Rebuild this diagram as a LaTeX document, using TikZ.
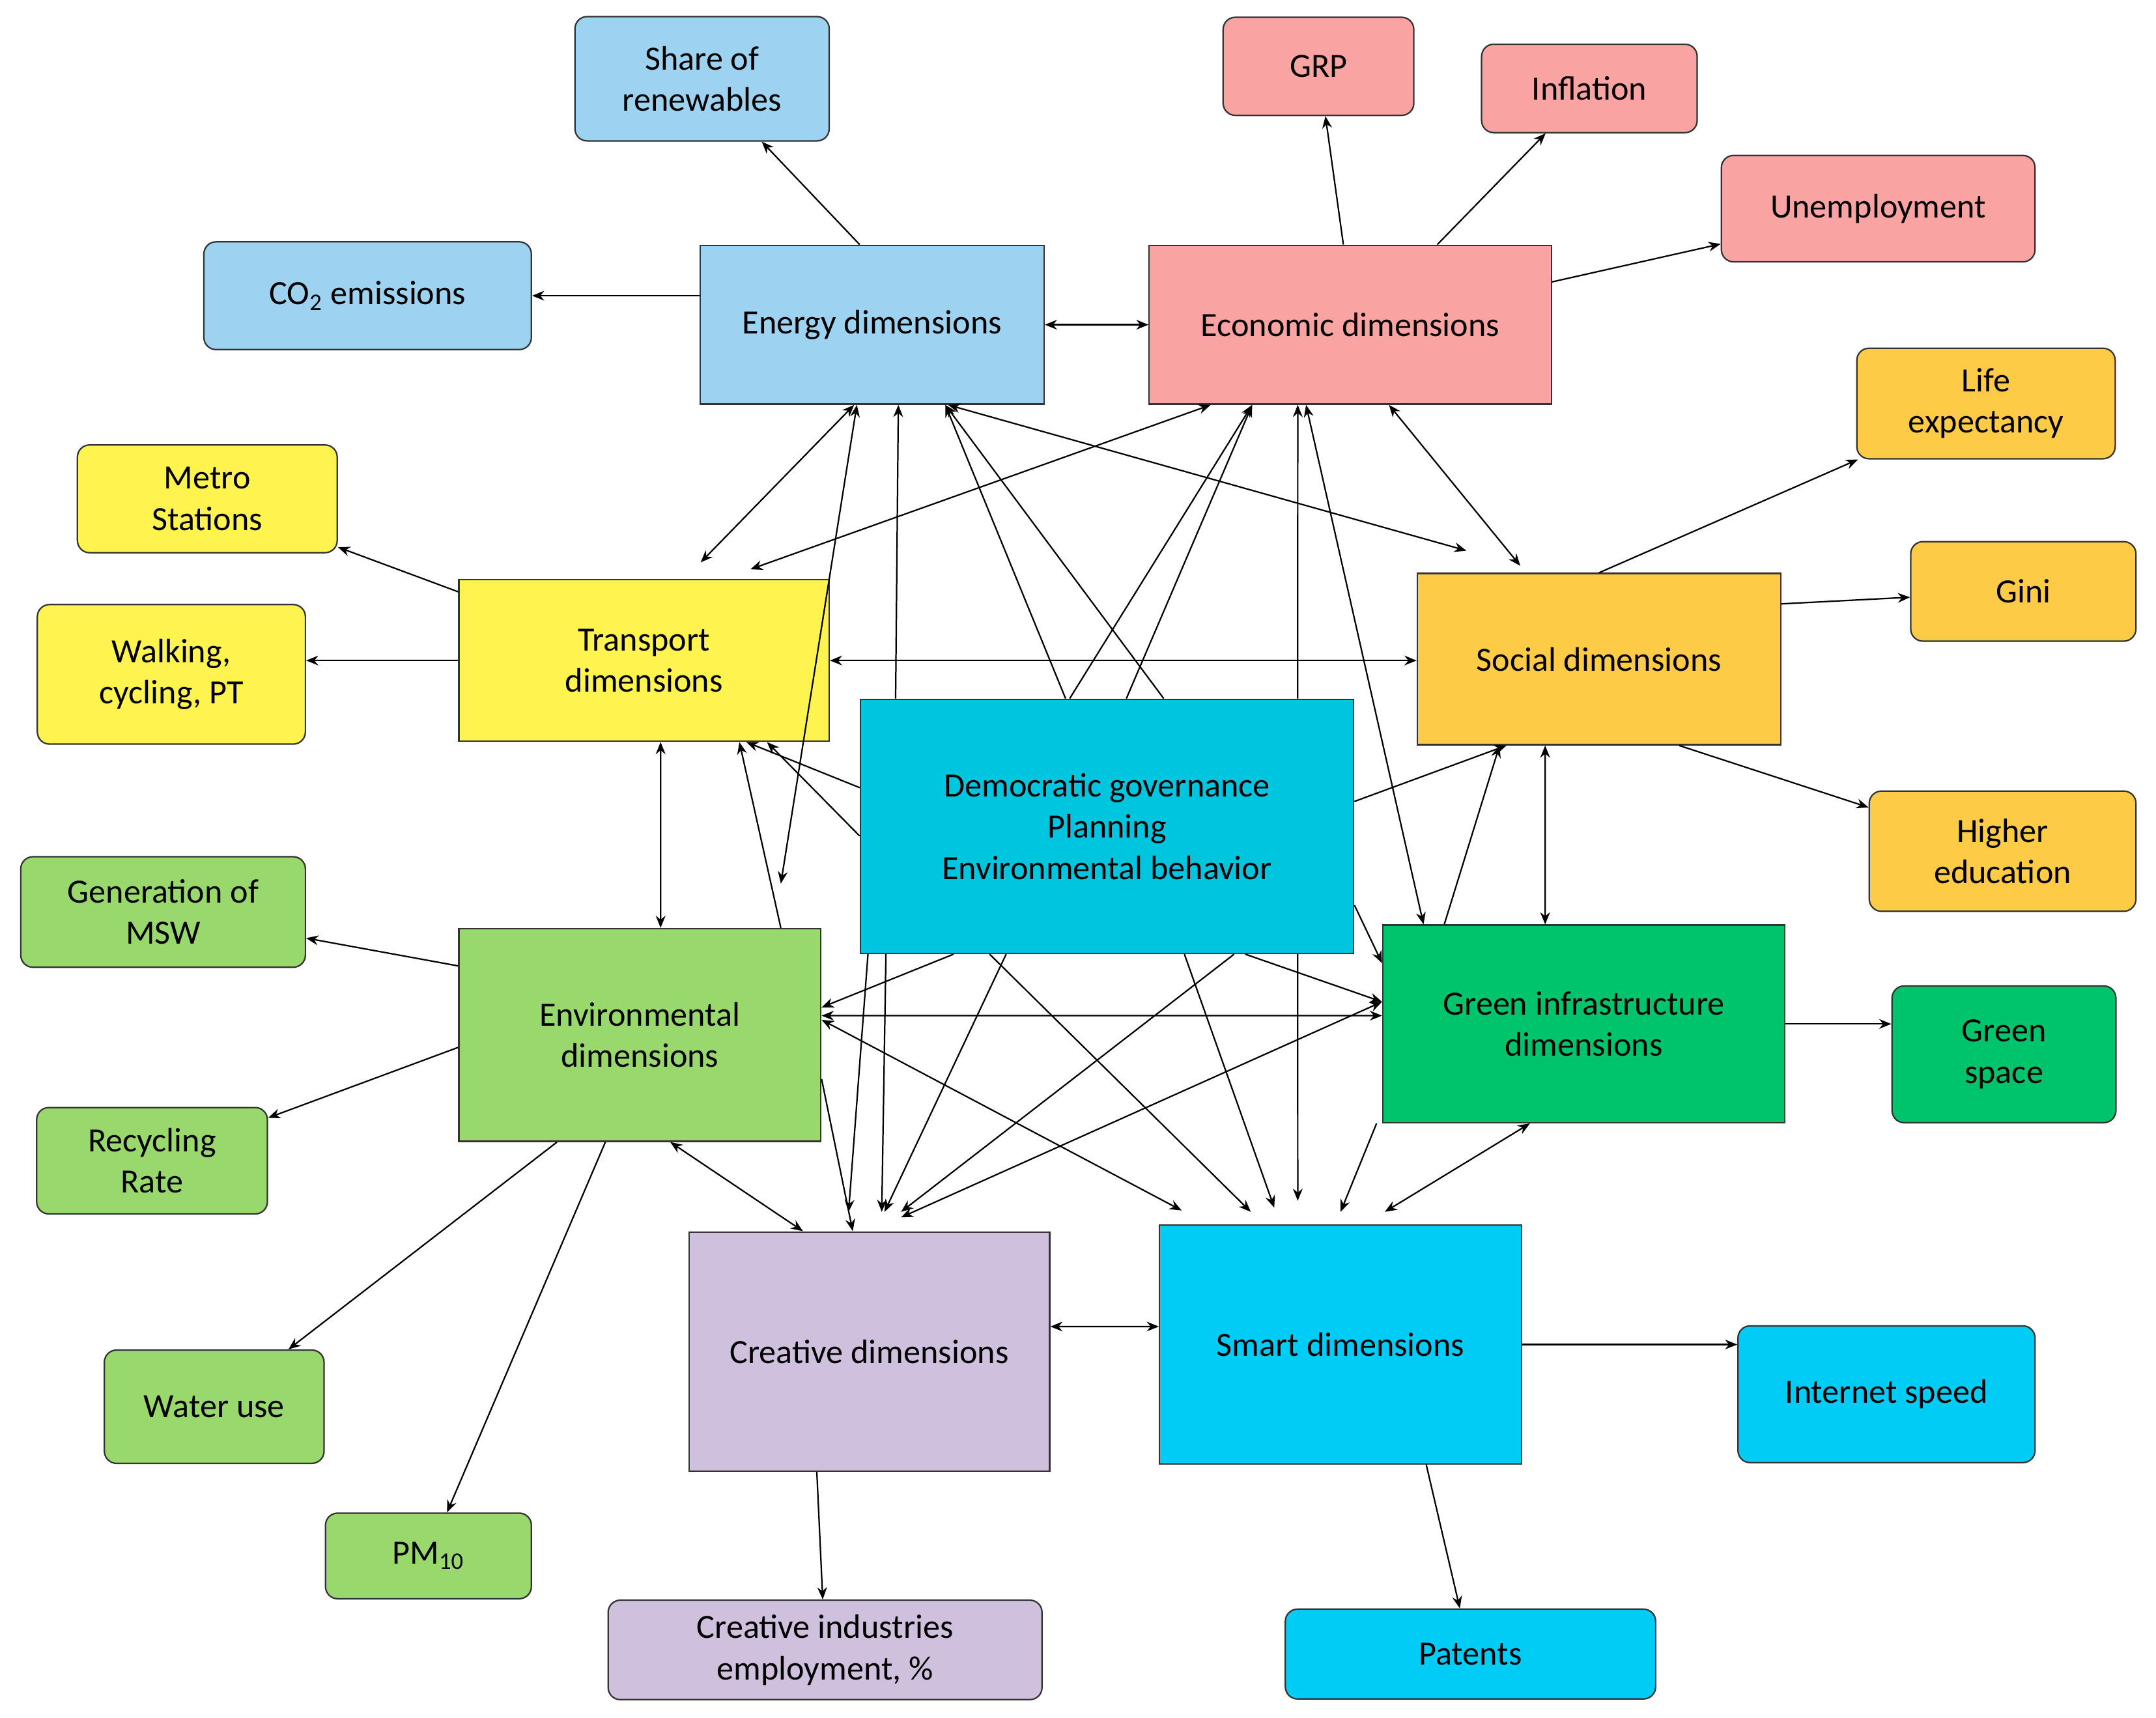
\documentclass[tikz,border=0pt]{standalone}
\usepackage{fontspec}
\setmainfont{Carlito}
\usetikzlibrary{arrows.meta}
\definecolor{energyc}{HTML}{9DD3F0}
\definecolor{econc}{HTML}{F9A3A3}
\definecolor{socialc}{HTML}{FDCB45}
\definecolor{transc}{HTML}{FFF44F}
\definecolor{govc}{HTML}{00C5DE}
\definecolor{envc}{HTML}{99D86C}
\definecolor{greenc}{HTML}{00C46B}
\definecolor{creatc}{HTML}{CFC0DE}
\definecolor{smartc}{HTML}{00CCF6}
\begin{document}
\begin{tikzpicture}[x=0.02cm,y=-0.02cm,line width=0.6pt,>={Stealth[length=5pt,width=4pt]},
	dim/.style={draw=black!80, align=center, font=\fontsize{14}{17}\selectfont, inner sep=0pt},
	ind/.style={dim, rounded corners=5pt}]
	\useasboundingbox (0,0) rectangle (1560,1243);
	% dimensions
	\node [dim, fill=energyc, minimum width=4.98cm, minimum height=2.3cm] (energy) at (631,235) {Energy dimensions};
	\node [dim, fill=econc, minimum width=5.82cm, minimum height=2.3cm] (economic) at (977,235) {Economic dimensions};
	\node [dim, fill=transc, minimum width=5.36cm, minimum height=2.34cm] (transport) at (466,478) {Transport\\dimensions};
	\node [dim, fill=socialc, minimum width=5.26cm, minimum height=2.48cm] (social) at (1157,477) {Social dimensions};
	\node [dim, fill=govc, minimum width=7.14cm, minimum height=3.68cm] (gov) at (801,598) {Democratic governance\\Planning\\Environmental behavior};
	\node [dim, fill=envc, minimum width=5.24cm, minimum height=3.08cm] (envir) at (463,749) {Environmental\\dimensions};
	\node [dim, fill=greenc, minimum width=5.82cm, minimum height=2.86cm] (greeninf) at (1146,741) {Green infrastructure\\dimensions};
	\node [dim, fill=creatc, minimum width=5.22cm, minimum height=3.46cm] (creative) at (629,978) {Creative dimensions};
	\node [dim, fill=smartc, minimum width=5.24cm, minimum height=3.46cm] (smart) at (970,973) {Smart dimensions};
	% indicators
	\node [ind, fill=energyc, minimum width=3.68cm, minimum height=1.8cm] (share) at (508,57) {Share of\\renewables};
	\node [ind, fill=energyc, minimum width=4.74cm, minimum height=1.56cm] (co2) at (266,214) {CO\textsubscript{2} emissions};
	\node [ind, fill=econc, minimum width=2.76cm, minimum height=1.42cm] (grp) at (954,48) {GRP};
	\node [ind, fill=econc, minimum width=3.12cm, minimum height=1.28cm] (inflation) at (1150,64) {Inflation};
	\node [ind, fill=econc, minimum width=4.54cm, minimum height=1.54cm] (unemp) at (1359,151) {Unemployment};
	\node [ind, fill=socialc, minimum width=3.74cm, minimum height=1.6cm] (life) at (1437,292) {Life\\expectancy};
	\node [ind, fill=socialc, minimum width=3.26cm, minimum height=1.44cm] (gini) at (1464,428) {Gini};
	\node [ind, fill=socialc, minimum width=3.86cm, minimum height=1.74cm] (higher) at (1449,616) {Higher\\education};
	\node [ind, fill=transc, minimum width=3.76cm, minimum height=1.56cm] (metro) at (150,361) {Metro\\Stations};
	\node [ind, fill=transc, minimum width=3.88cm, minimum height=2.02cm] (walking) at (124,488) {Walking,\\cycling, PT};
	\node [ind, fill=envc, minimum width=4.12cm, minimum height=1.6cm] (msw) at (118,660) {Generation of\\MSW};
	\node [ind, fill=envc, minimum width=3.34cm, minimum height=1.54cm] (recycling) at (110,840) {Recycling\\Rate};
	\node [ind, fill=envc, minimum width=3.18cm, minimum height=1.64cm] (water) at (155,1018) {Water use};
	\node [ind, fill=envc, minimum width=2.98cm, minimum height=1.24cm] (pm) at (310,1126) {PM\textsubscript{10}};
	\node [ind, fill=greenc, minimum width=3.24cm, minimum height=1.98cm] (gspace) at (1450,763) {Green\\space};
	\node [ind, fill=creatc, minimum width=6.28cm, minimum height=1.44cm] (cemp) at (597,1194) {Creative industries\\employment, \%};
	\node [ind, fill=smartc, minimum width=4.3cm, minimum height=1.98cm] (internet) at (1365,1009) {Internet speed};
	\node [ind, fill=smartc, minimum width=5.36cm, minimum height=1.3cm] (patents) at (1064,1197) {Patents};
	% dimension -> indicator
	\draw [->] ([xshift=-0.18cm]energy.north) to (share);
	\draw [->] (energy.west |- co2.east) to (co2.east);
	\draw [->] ([xshift=-0.1cm]economic.north) to (grp);
	\draw [->] ([xshift=1.26cm]economic.north) to (inflation);
	\draw [->] ([yshift=0.62cm]economic.east) to (unemp);
	\draw [->] ([xshift=0cm]social.north) to (life);
	\draw [->] ([yshift=0.8cm]social.east) to (gini);
	\draw [->] ([xshift=1.16cm]social.south) to (higher);
	\draw [->] (transport) to (metro);
	\draw [->] (transport.west) to (walking.east |- transport.west);
	\draw [->] ([yshift=1.0cm]envir.west) to (msw);
	\draw [->] ([yshift=-0.18cm]envir.west) to (recycling);
	\draw [->] ([xshift=-1.2cm]envir.south) to (water);
	\draw [->] ([xshift=-0.5cm]envir.south) to (pm);
	\draw [->] (greeninf.east) to (gspace.west |- greeninf.east);
	\draw [->] ([xshift=-0.76cm]creative.south) to (cemp);
	\draw [->] (smart.east) to (internet.west |- smart.east);
	\draw [->] ([xshift=1.24cm]smart.south) to (patents);
	% links between dimensions
	\draw [<->] (energy.east) to (economic.west);
	\draw [<->] ([xshift=-0.26cm]energy.south) to ([xshift=0.82cm,yshift=0.24cm]transport.north);
	\draw [<->] ([xshift=-0.22cm]energy.south) to ([xshift=2.04cm,yshift=0.64cm]envir.north);
	\draw [->] ([xshift=-3.06cm]gov.north) to ([xshift=0.38cm]energy.south);
	\draw [->] ([xshift=-0.6cm]gov.north) to ([xshift=1.06cm]energy.south);
	\draw [->] ([xshift=0.82cm]gov.north) to ([xshift=1.06cm]energy.south);
	\draw [<->] ([xshift=1.1cm]energy.south) to ([xshift=-1.92cm,yshift=0.32cm]social.north);
	\draw [<->] ([xshift=1.54cm,yshift=0.14cm]transport.north) to ([xshift=-2.02cm]economic.south);
	\draw [->] ([xshift=-0.54cm]gov.north) to ([xshift=-1.42cm]economic.south);
	\draw [->] ([xshift=0.28cm]gov.north) to ([xshift=-1.42cm]economic.south);
	\draw [->] ([xshift=2.76cm]gov.north) to ([xshift=-0.76cm]economic.south);
	\draw [<->] ([xshift=-0.64cm]economic.south) to ([xshift=-2.32cm]greeninf.north);
	\draw [<->] ([xshift=0.56cm]economic.south) to ([xshift=-1.14cm,yshift=0.1cm]social.north);
	\draw [<->] (transport.east) to (social.west |- transport.east);
	\draw [<->] ([xshift=0.24cm]transport.south) to ([xshift=0.3cm]envir.north);
	\draw [->] ([yshift=0.56cm]gov.west) to ([xshift=1.48cm]transport.south);
	\draw [->] ([yshift=-0.14cm]gov.west) to ([xshift=1.78cm]transport.south);
	\draw [->] ([xshift=2.04cm]envir.north) to ([xshift=1.38cm]transport.south);
	\draw [->] ([yshift=0.36cm]gov.east) to ([xshift=-1.34cm]social.south);
	\draw [->] ([xshift=-2.02cm]greeninf.north) to ([xshift=-1.44cm]social.south);
	\draw [<->] ([xshift=-0.78cm]social.south) to ([xshift=-0.56cm]greeninf.north);
	\draw [->] ([yshift=-1.14cm]gov.east) to ([yshift=0.88cm]greeninf.west);
	\draw [<->] ([yshift=0.28cm]envir.east) to ([yshift=0.12cm]greeninf.west);
	\draw [->] ([xshift=-2.22cm]gov.south) to ([yshift=0.4cm]envir.east);
	\draw [<->] ([yshift=0.22cm]envir.east) to ([xshift=-2.3cm,yshift=0.2cm]smart.north);
	\draw [->] ([xshift=2.0cm]gov.south) to ([yshift=0.32cm]greeninf.west);
	\draw [<->] ([yshift=0.32cm]greeninf.west) to ([xshift=0.46cm,yshift=0.2cm]creative.north);
	\draw [->] ([xshift=-3.46cm]gov.south) to ([xshift=-0.3cm,yshift=0.28cm]creative.north);
	\draw [->] ([xshift=-3.2cm]gov.south) to ([xshift=0.18cm,yshift=0.28cm]creative.north);
	\draw [->] ([xshift=-1.46cm]gov.south) to ([xshift=0.22cm,yshift=0.28cm]creative.north);
	\draw [->] ([xshift=1.84cm]gov.south) to ([xshift=0.46cm,yshift=0.28cm]creative.north);
	\draw [->] ([xshift=-1.7cm]gov.south) to ([xshift=-1.3cm,yshift=0.18cm]smart.north);
	\draw [->] ([xshift=1.12cm]gov.south) to ([xshift=-0.96cm,yshift=0.24cm]smart.north);
	\draw [->] ([xshift=2.76cm]gov.south) to ([xshift=-0.62cm,yshift=0.34cm]smart.north);
	\draw [->] ([xshift=-3.0cm]greeninf.south) to ([yshift=0.18cm]smart.north);
	\draw [<->] ([xshift=-0.78cm]greeninf.south) to ([xshift=0.64cm,yshift=0.18cm]smart.north);
	\draw [<->] ([xshift=0.44cm]envir.south) to ([xshift=-0.96cm]creative.north);
	\draw [->] ([yshift=-0.64cm]envir.east) to ([xshift=-0.24cm]creative.north);
	\draw [<->] ([yshift=0.36cm]creative.east) to ([yshift=0.26cm]smart.west);
\end{tikzpicture}
\end{document}
